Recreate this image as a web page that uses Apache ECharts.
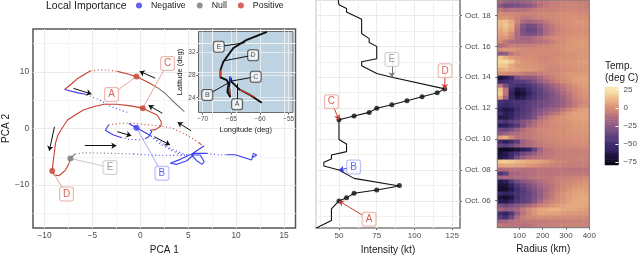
<!DOCTYPE html>
<html><head><meta charset="utf-8">
<style>html,body{margin:0;padding:0;background:#fff}#c{width:640px;height:271px}</style>
<script src="https://cdn.jsdelivr.net/npm/echarts@6/dist/echarts.min.js"></script>
</head><body><div id="c"></div>
<script>
// ---- PCA trajectory pieces [PCA1, PCA2]
const posSolidA=[[-7.9,6.9],[-7.1,8],[-6.5,8.9],[-5.8,9.6],[-5.2,10.2]];
const posDotsA=[[-5.2,10.2],[-4.2,10.4],[-3.2,10.3],[-2.4,10.1]];
const posSolidB=[[-2.4,10.1],[-1.4,9.7],[-0.4,9.2],[1,8],[1.9,7.1]];
const nullSolidA=[[1.9,7.1],[2.6,6.2],[3.3,5],[4.6,3]];
const negSolidA=[[-7.9,6.9],[-6.5,6.3],[-5.6,6]];
const nullDotsA=[[-5.6,6],[-4.2,5]];
const negDotsA=[[-4.2,5],[-3.1,3.9],[-2,3.2],[-1.2,2.8]];
const posSolidC=[[-9.2,-7.5],[-9.1,-6],[-8.85,-2.6],[-8.6,-1.2],[-8.3,-0.3],[-7.6,1.5],[-6.8,2.4],[-5.9,3.3],[-4.8,3.9],[-3.8,4.3],[-2.4,4.3],[-1,4],[0.25,3.6],[1.74,2.4],[2.2,1.2],[2.15,0.45],[1.6,-0.2],[1.04,-0.3]];
const posDotsB=[[-3.3,0.65],[-2,0.95],[-0.5,0.9],[1,0.6],[2.15,0.45],[3.4,0],[4.9,-1.2],[5.7,-2],[6.1,-2.5]];
const posSolidD=[[6.1,-2.5],[6.4,-2.9]];
const negSolidB=[[-3.3,0.65],[-3.65,-0.3],[-2.8,-1.15],[-2,-1.6]];
const negDotsB=[[-2,-1.6],[-1.4,-1.9],[0,-2],[0.5,-1.8]];
const negSolidC=[[0.5,-1.8],[0.87,-1.45],[1.2,-0.55],[1.04,-0.3]];
const negSolidD=[[-1.2,0.9],[-0.4,0.15],[0.5,-0.7],[1.1,-1.3]];
const negDotsC=[[1.1,-1.3],[2.1,-2.8],[3.4,-4],[4.4,-4.7]];
const negDotsD=[[0.5,-0.7],[1.8,-2],[3.2,-3.6],[5,-4.8]];
const negSolidE=[[6.67,-3.04],[5.38,-4.5],[4.17,-5.46],[3.13,-6.16],[3.82,-6.34],[4.86,-5.7],[5.55,-4.69],[6.25,-4.69],[6.67,-5.88],[6.43,-6.34],[5.9,-5.7],[5.38,-4.69],[5.6,-4.4],[6.95,-4.4]];
const negDotsE=[[6.95,-4.4],[8.33,-4.7],[9,-4.65]];
const negSolidF=[[9,-4.65],[9.9,-4.63],[11.63,-5.57],[11.8,-4.4],[12.15,-4.7],[11.63,-5.2]];
const posSolidE=[[-9.2,-7.5],[-9,-8.2],[-8.5,-8.35],[-7.8,-7.35],[-7.45,-6.2]];
const nullSolidB=[[-7.45,-6.2],[-7.3,-5.3],[-6.8,-4.5]];
const nullDotsB=[[-6.8,-4.5],[-5.9,-4.3],[-4,-4.35],[-0.7,-4.5]];
const negDotsF=[[-0.7,-4.5],[1,-4.7],[3.4,-4.75],[5.38,-4.69]];
const pcaNeg=[[-0.4,0.15]];
const pcaNull=[[-7.3,-5.3]];
const pcaPos=[[-0.4,9.2],[0.25,3.6],[-9.2,-7.5]];
const pcaArrows=[[[-6.98,7.1],[-5.1,6.1]],[[1.56,8.9],[-0.07,10.1]],[[2.3,2.7],[0.86,4.1]],[[5.3,-0.4],[3.9,1.1]],[[-2.4,-0.57],[-0.94,-1.27]],[[1.46,-1.45],[3.1,-2.9]],[[-8.96,0.3],[-9.5,-3.95]],[[-5.8,-3.05],[-2.5,-3.05]]];
const pcaLabelA=[-3,6.0], pcaLabelB=[2.26,-7.9], pcaLabelC=[2.85,11.5], pcaLabelD=[-7.7,-11.6], pcaLabelE=[-3.16,-6.9];
const pcaTicksX=[-10,-5,0,5,10,15], pcaTicksY=[-10,0,10];
const pcaMinorX=[-7.5,-2.5,2.5,7.5,12.5], pcaMinorY=[-15,-5,5,15];
// ---- inset track [lon, lat]
const trackAll=[[-59.7,23.1],[-61.75,24.5],[-63.5,25.4],[-64.95,26.8],[-65.2,27.7],[-65.4,25.9],[-65.2,24.1],[-65.5,23.9],[-65.7,25.06],[-65.5,26.5],[-65.8,27.1],[-66.9,27.6],[-66.9,28.9],[-66.4,30.35],[-64.7,32.7],[-62.3,34.2],[-58.8,35.6]];
const trackPosA=[[-63.5,25.4],[-62.2,24.8],[-60.9,24.1]];
const trackPosB=[[-66.9,27.7],[-66.9,28.9]];
const trackPosC=[[-65.4,25.9],[-65.2,24.5]];
const trackNeg=[[-65.2,26.8],[-65.2,27.7]];
const insetLabels=[['A',-64,22.85,-64,26.5],['B',-69.2,24.5,-65.2,26.8],['C',-60.75,27.7,-65.2,26.9],['D',-61.2,31.5,-66.3,30.5],['E',-67.2,33,-62.6,33.7]];
const lonTicks=[-70,-65,-60,-55], latTicks=[24,28,32];
// ---- intensity [kt, day of October]
const intensityPath=[[35,4.25],[37,4.34],[45,4.73],[45,5.48],[50,6],[55,6.2],[60,6.5],[75,6.71],[90,6.97],[90,7],[60,7.46],[50,8],[40,8.26],[40,8.5],[45,8.71],[45,8.97],[55,9.19],[55,9.68],[50,9.98],[50,11.25],[60,11.5],[70,11.73],[75,12],[85,12.22],[95,12.48],[105,12.74],[115,13],[120,13.25],[85,14],[75,14.25],[65,14.74],[65,15],[75,15.2],[75,16],[70,16.25],[70,16.5],[65,16.83],[65,17.76],[55,18.23],[55,18.45],[50,18.7],[49.6,18.9],[49.6,19]];
const intensityDots=[[50,6],[55,6.2],[60,6.5],[75,6.71],[90,7],[50,11.25],[60,11.5],[70,11.73],[75,12],[85,12.22],[95,12.48],[105,12.74],[115,13],[120,13.25]];
const intensityPts=[['A',69.9,4.82,50,6,0],['B',59.7,8.2,50,8,1],['C',45,12.42,50,11.25,0],['D',120.2,14.42,120,13.25,0],['E',85,15.15,85,14,2]];
const kTicks=[50,75,100,125], dayTicks=[6,8,10,12,14,16,18];
const kMinorX=[37.5,62.5,87.5,112.5], dayMinor=[5,7,9,11,13,15,17];
const radiusTicks=[100,200,300,400];
// ---- temperature, rows top to bottom, columns 25 km wide
const radiusCols=[12.5,37.5,62.5,87.5,112.5,137.5,162.5,187.5,212.5,237.5,262.5,287.5,312.5,337.5,362.5,387.5];
const tempRows=[
[-15,-20,-22,-22,-20,-18,-14,-10,-8,-6,-5,-4,-4,-4,-5,-6],
[-25,-32,-32,-30,-28,-25,-20,-12,-8,-6,-5,-4,-3,-4,-4,-5],
[-8,-15,-12,-12,-12,-10,-8,-6,-5,-5,-4,-3,-3,-3,-4,-4],
[0,-3,-3,-4,-4,-4,-4,-3,-2,-2,-2,0,0,-1,-2,-2],
[0,2,0,-4,-8,-8,-6,-4,-3,-2,-1,0,1,1,0,0],
[12,14,8,-4,-14,-18,-16,-12,-8,-4,-2,0,1,2,2,1],
[12,15,10,-8,-26,-32,-30,-22,-14,-8,-4,-2,0,1,1,1],
[8,12,6,-12,-30,-36,-34,-26,-16,-10,-6,-3,-1,0,0,0],
[6,8,0,-14,-28,-32,-30,-24,-14,-8,-4,-2,0,0,1,0],
[2,3,-4,-14,-18,-18,-14,-10,-6,-3,-1,0,1,2,2,2],
[-2,-8,-15,-16,-16,-16,-14,-12,-10,-6,-2,0,2,3,3,3],
[-14,-10,-6,-6,-6,-5,-5,-4,-3,-2,0,1,2,3,4,3],
[0,3,2,0,-1,-2,-2,-2,-2,-1,0,1,3,3,2,2],
[-25,-22,-8,-4,-2,-1,-1,-1,-2,-2,-2,0,1,1,2,2],
[16,10,4,1,0,0,-1,-2,-3,-2,-1,0,1,1,2,2],
[20,22,16,6,2,1,0,-1,-2,-1,0,1,2,3,4,4],
[16,16,8,3,2,2,1,0,-1,-2,-2,0,1,2,3,3],
[8,10,8,6,4,3,2,0,-2,-3,-3,-1,0,1,2,2],
[0,0,-2,-4,-6,-8,-8,-6,-4,-3,-1,1,2,3,3,3],
[-68,-60,-50,-30,-24,-24,-22,-16,-10,-6,-2,0,2,4,5,5],
[-52,-50,-46,-42,-40,-36,-30,-22,-16,-10,-6,-2,1,4,5,5],
[-10,-30,-45,-50,-50,-46,-40,-34,-26,-20,-14,-8,-3,0,3,4],
[14,-10,-52,-65,-62,-52,-44,-38,-30,-24,-18,-12,-6,-2,1,3],
[18,-10,-56,-72,-68,-56,-46,-40,-34,-28,-22,-16,-10,-4,0,2],
[8,-20,-54,-64,-60,-50,-44,-38,-34,-28,-24,-18,-12,-6,-2,1],
[-46,-50,-48,-46,-46,-42,-38,-34,-32,-28,-24,-20,-14,-8,-4,-2],
[-50,-52,-50,-48,-44,-40,-36,-34,-30,-26,-24,-20,-14,-8,-2,0],
[-58,-64,-60,-50,-44,-40,-34,-28,-24,-20,-16,-10,-4,0,4,5],
[-50,-58,-56,-48,-42,-38,-32,-24,-18,-12,-8,-2,2,5,6,6],
[-62,-62,-54,-46,-40,-36,-28,-14,-8,-3,0,2,4,5,6,6],
[-42,-46,-40,-34,-28,-22,-14,-8,-4,-1,0,1,2,4,4,4],
[-60,-58,-50,-42,-30,-18,-12,-6,-4,-2,-1,0,1,3,3,3],
[-34,-36,-30,-22,-14,-8,-5,-3,-2,-1,0,0,2,2,3,3],
[-24,-20,-16,-14,-10,-8,-5,-4,-2,-1,0,0,1,2,2,2],
[6,10,-2,-10,-10,-8,-6,-4,-3,-2,-1,0,0,1,1,1],
[-50,-58,-50,-40,-20,-14,-10,-6,-4,-3,-2,-2,-1,0,0,0],
[-36,-40,-34,-26,-18,-14,-10,-8,-6,-5,-4,-3,-2,-2,-1,-1],
[-72,-74,-70,-66,-60,-54,-36,-18,-10,-8,-6,-6,-5,-5,-4,-4],
[-66,-62,-52,-44,-34,-28,-22,-14,-10,-8,-6,-6,-5,-5,-5,-5],
[-64,-60,-50,-32,-22,-16,-12,-10,-8,-7,-6,-6,-6,-5,-4,-4],
[16,18,16,12,10,8,7,6,3,0,-3,-4,-5,-5,-5,-5],
[6,8,8,6,5,3,1,-1,-3,-4,-4,-5,-6,-6,-6,-6],
[-14,-14,-12,-12,-12,-12,-12,-10,-10,-10,-10,-10,-10,-10,-10,-10],
[-46,-38,-18,-16,-14,-12,-12,-10,-10,-10,-10,-9,-9,-9,-9,-9],
[-18,-16,-16,-14,-14,-12,-10,-9,-8,-8,-6,-6,-5,-4,-4,-3],
[-62,-58,-44,-32,-26,-22,-18,-14,-10,-8,-6,-4,-2,-1,0,1],
[-68,-66,-56,-44,-36,-30,-24,-18,-14,-10,-6,-3,-1,1,2,3],
[-70,-70,-62,-50,-42,-34,-28,-22,-16,-10,-5,-2,1,4,5,4],
[-52,-56,-52,-46,-42,-38,-30,-22,-14,-8,-3,1,4,6,6,5],
[-66,-70,-64,-48,-40,-36,-30,-22,-14,-8,-2,1,4,7,8,8],
[-60,-62,-54,-44,-40,-36,-26,-16,-8,-4,-1,2,5,8,8,8],
[-30,-34,-30,-26,-22,-16,-10,-4,-2,1,4,6,8,8,8,7],
[-18,-22,-20,-16,-8,-2,2,7,8,10,10,8,7,6,5,4],
[-50,-56,-44,-24,-10,-4,2,6,6,6,5,4,3,3,2,2],
[-42,-48,-34,-14,-6,-3,-2,0,-1,-1,-1,-1,-1,-1,-2,-2],
[-18,-16,-12,-10,-9,-8,-8,-8,-7,-6,-6,-6,-5,-5,-5,-5],
[-8,-10,-10,-10,-12,-10,-8,-6,-6,-5,-4,-4,-4,-4,-4,-4]];
const legendLevels=[-77.5,-75,-72.5,-70,-67.5,-65,-62.5,-60,-57.5,-55,-52.5,-50,-47.5,-45,-42.5,-40,-37.5,-35,-32.5,-30,-27.5,-25,-22.5,-20,-17.5,-15,-12.5,-10,-7.5,-5,-2.5,0,2.5,5,7.5,10,12.5,15,17.5,20,22.5,25,27.5];
const tempPalette=['#05030f','#150e2e','#2a1c55','#3f2d6e','#5a3f7c','#7a5082','#9b6183','#bb747c','#d68f76','#e9b083','#f4d79b','#f8edb8'];

const RED='#c8402f',BLUE='#3b3bf2',GRAY='#777777';
const RED_L='#e6a59b',BLUE_L='#a9a9f8',GRAY_L='#c8c8c8';
const TICK='#4d4d4d',FONT='"Liberation Sans",Arial,sans-serif';
const minus=v=>String(v).replace('-','\u2212');

function path(pts,color,dotted,w){return{type:'line',xAxisIndex:0,yAxisIndex:0,data:pts,showSymbol:false,silent:true,z:3,
  lineStyle:{color,width:w||1.1,type:dotted?[1,2.6]:'solid'},animation:false};}
function inset(pts,color,w){return{type:'line',xAxisIndex:1,yAxisIndex:1,data:pts,showSymbol:false,silent:true,z:5,
  lineStyle:{color,width:w},animation:false};}
function lines(idx,data,color,arrow,w,z,size){return{type:'lines',coordinateSystem:'cartesian2d',xAxisIndex:idx,yAxisIndex:idx,silent:true,z:z||3,polyline:false,
  symbol:arrow?['none','arrow']:['none','none'],symbolSize:size||6,effect:{show:false},data:data.map(c=>({coords:c})),lineStyle:{color,width:w,opacity:1,curveness:0},animation:false};}
function box(idx,pt,name,color,border,size,z){return{type:'scatter',xAxisIndex:idx,yAxisIndex:idx,symbolSize:0,silent:true,z:z||6,animation:false,
  data:[{value:pt,name}],label:{show:true,position:'inside',formatter:'{b}',color,fontFamily:FONT,fontSize:size,backgroundColor:'#fff',borderColor:border,borderWidth:1,borderRadius:2,
  width:size+1,height:size+1,lineHeight:size+2,padding:[1,1],align:'center',verticalAlign:'middle'}};}
function gridLines(idx,xs,ys,ext,color,z){const d=[];xs.forEach(x=>d.push([[x,ext[2]],[x,ext[3]]]));ys.forEach(y=>d.push([[ext[0],y],[ext[1],y]]));
  return lines(idx,d,color,false,1,z);}

const heatData=[];tempRows.forEach((r,y)=>r.forEach((v,x)=>heatData.push([x,y,v])));
const legendData=legendLevels.map((v,i)=>[0,i,v]);
const pcaExt=[-11.2,16.2,-17.6,17.6], kExt=[34.8,130.1,4.25,19], mapExt=[-70.73,-54.25,21.4,35.67];

const series=[
 gridLines(0,pcaMinorX,pcaMinorY,pcaExt,'#f5f5f5',1),
 gridLines(0,pcaTicksX,pcaTicksY,pcaExt,'#ebebeb',2),
 gridLines(2,kMinorX,dayMinor,kExt,'#f0f0f0',1),
 gridLines(2,kTicks.concat([75]),dayTicks,kExt,'#ebebeb',2),
 gridLines(1,lonTicks,latTicks,mapExt,'#e4ecf2',4),
 path(posSolidA,RED),path(posDotsA,RED,1),path(posSolidB,RED),path(nullSolidA,GRAY),
 path(negSolidA,BLUE),path(nullDotsA,GRAY,1),path(negDotsA,BLUE,1),
 path(posSolidC,RED),path(posDotsB,RED,1),path(posSolidD,RED),
 path(negSolidB,BLUE),path(negDotsB,BLUE,1),path(negSolidC,BLUE),path(negSolidD,BLUE),path(negDotsC,BLUE,1),path(negDotsD,BLUE,1),
 path(negSolidE,BLUE),path(negDotsE,BLUE,1),path(negSolidF,BLUE),
 path(posSolidE,RED),path(nullSolidB,GRAY),path(nullDotsB,GRAY,1),path(negDotsF,BLUE,1),
 lines(0,pcaArrows,'#111',true,1,4,5),
 lines(0,[[pcaPos[0],pcaLabelA]],RED_L,false,1,4),lines(0,[[pcaPos[1],pcaLabelC]],RED_L,false,1,4),lines(0,[[pcaPos[2],pcaLabelD]],RED_L,false,1,4),
 lines(0,[[pcaNeg[0],pcaLabelB]],BLUE_L,false,1,4),lines(0,[[pcaNull[0],pcaLabelE]],GRAY_L,false,1,4),
 {name:'Negative',type:'scatter',xAxisIndex:0,yAxisIndex:0,data:pcaNeg,symbolSize:6,itemStyle:{color:BLUE},z:5,silent:true,animation:false},
 {name:'Null',type:'scatter',xAxisIndex:0,yAxisIndex:0,data:pcaNull,symbolSize:6,itemStyle:{color:GRAY},z:5,silent:true,animation:false},
 {name:'Positive',type:'scatter',xAxisIndex:0,yAxisIndex:0,data:pcaPos,symbolSize:6,itemStyle:{color:RED},z:5,silent:true,animation:false},
 box(0,pcaLabelA,'A',RED,RED_L,10),box(0,pcaLabelB,'B',BLUE,BLUE_L,10),box(0,pcaLabelC,'C',RED,RED_L,10),box(0,pcaLabelD,'D',RED,RED_L,10),box(0,pcaLabelE,'E','#888',GRAY_L,10),
 inset(trackAll,'#0a0a0a',1.8),inset(trackPosA,RED,1.3),inset(trackPosB,RED,1.3),inset(trackPosC,RED,1.3),inset(trackNeg,BLUE,1.5),
 lines(1,insetLabels.map(l=>[[l[1],l[2]],[l[3],l[4]]]),'#111',false,1,5),
 ...insetLabels.map(l=>box(1,[l[1],l[2]],l[0],'#222','#333',7,7)),
 {type:'line',xAxisIndex:2,yAxisIndex:2,data:intensityPath,showSymbol:false,silent:true,z:3,lineStyle:{color:'#111',width:1.1},animation:false},
 {type:'scatter',xAxisIndex:2,yAxisIndex:2,data:intensityDots,symbolSize:5,itemStyle:{color:'#111'},silent:true,z:4,animation:false},
 ...intensityPts.map(p=>{const c=[RED,BLUE,GRAY][p[5]];return lines(2,[[[p[1],p[2]],[p[3],p[4]]]],c,true,1,5,5);}),
 ...intensityPts.map(p=>box(2,[p[1],p[2]],p[0],[RED,BLUE,'#888'][p[5]],[RED_L,BLUE_L,GRAY_L][p[5]],10)),
 {type:'heatmap',xAxisIndex:3,yAxisIndex:3,data:heatData,silent:true,animation:false,z:2,progressive:0},
 {type:'heatmap',xAxisIndex:5,yAxisIndex:5,data:legendData,silent:true,animation:false,z:2,progressive:0}
];

const legendTick=(i,v)=>Number(v)%25===0;
const opt={
 animation:false,backgroundColor:'#fff',textStyle:{fontFamily:FONT},
 title:[{text:'Local Importance',left:46,top:1,padding:0,textStyle:{fontSize:10.5,fontWeight:'normal',color:'#1a1a1a',fontFamily:FONT}},
        {text:'Temp.\n(deg C)',left:605,top:60,padding:0,textStyle:{fontSize:10,lineHeight:12,fontWeight:'normal',color:'#1a1a1a',fontFamily:FONT}}],
 legend:{left:136,top:1,padding:0,itemWidth:14,itemHeight:6,itemGap:11,icon:'circle',selectedMode:false,data:['Negative','Null','Positive'],textStyle:{fontSize:8.8,color:'#222',fontFamily:FONT}},
 visualMap:{show:false,type:'continuous',min:-80,max:30,dimension:2,seriesIndex:[series.length-2,series.length-1],inRange:{color:tempPalette}},
 grid:[
  {left:32.5,top:29,width:263,height:199,show:true,borderColor:'#555',borderWidth:1.5,backgroundColor:'#fff',z:0},
  {left:198.5,top:31.5,width:94.5,height:81,show:true,borderColor:'#6b6b6b',borderWidth:1,backgroundColor:'#bdd3e2',z:1},
  {left:316,top:0,width:144,height:228,show:true,borderColor:'#c4c4c4',borderWidth:1,backgroundColor:'#fff'},
  {left:497.3,top:0,width:92,height:227.7,show:false},
  {left:605,top:87,width:17,height:78,show:false}
 ],
 xAxis:[
  {gridIndex:0,type:'value',min:pcaExt[0],max:pcaExt[1],name:'PCA 1',nameLocation:'middle',nameGap:13,nameTextStyle:{fontSize:10,color:'#1a1a1a'},
   axisLine:{show:false},axisTick:{customValues:pcaTicksX,length:2,lineStyle:{color:'#444'}},splitLine:{show:false},
   axisLabel:{customValues:pcaTicksX,fontSize:8.3,color:TICK,margin:4,formatter:minus}},
  {gridIndex:1,type:'value',min:mapExt[0],max:mapExt[1],name:'Longitude (deg)',nameLocation:'middle',nameGap:13,nameTextStyle:{fontSize:7.5,color:'#222'},z:2,
   axisLine:{show:false},axisTick:{customValues:lonTicks,length:2,lineStyle:{color:'#555'}},splitLine:{show:false},
   axisLabel:{customValues:lonTicks,fontSize:6.5,color:TICK,margin:3,formatter:minus}},
  {gridIndex:2,type:'value',min:kExt[0],max:kExt[1],name:'Intensity (kt)',nameLocation:'middle',nameGap:14,nameTextStyle:{fontSize:10,color:'#1a1a1a'},
   axisLine:{show:true,onZero:false,lineStyle:{color:'#8c8c8c',width:1.5}},axisTick:{customValues:kTicks,length:2,lineStyle:{color:'#666'}},splitLine:{show:false},
   axisLabel:{customValues:kTicks,fontSize:8,color:TICK,margin:4}},
  {gridIndex:3,type:'category',data:radiusCols,show:false,boundaryGap:true},
  {gridIndex:3,type:'value',min:5.7,max:400,position:'bottom',name:'Radius (km)',nameLocation:'middle',nameGap:14,nameTextStyle:{fontSize:10,color:'#1a1a1a'},
   axisLine:{show:true,onZero:false,lineStyle:{color:'#777',width:1}},axisTick:{customValues:radiusTicks,length:2,lineStyle:{color:'#666'}},splitLine:{show:false},
   axisLabel:{customValues:radiusTicks,fontSize:8,color:TICK,margin:4}},
  {gridIndex:4,type:'category',data:['temp'],show:false}
 ],
 yAxis:[
  {gridIndex:0,type:'value',min:pcaExt[2],max:pcaExt[3],name:'PCA 2',nameLocation:'middle',nameGap:22,nameRotate:90,nameTextStyle:{fontSize:10,color:'#1a1a1a'},
   axisLine:{show:false},axisTick:{customValues:pcaTicksY,length:2,lineStyle:{color:'#444'}},splitLine:{show:false},
   axisLabel:{customValues:pcaTicksY,fontSize:8.3,color:TICK,margin:4,formatter:minus}},
  {gridIndex:1,type:'value',min:mapExt[2],max:mapExt[3],name:'Latitude (deg)',nameLocation:'middle',nameGap:14,nameRotate:90,nameTextStyle:{fontSize:7.5,color:'#222'},z:2,
   axisLine:{show:false},axisTick:{customValues:latTicks,length:2,lineStyle:{color:'#555'}},splitLine:{show:false},
   axisLabel:{customValues:latTicks,fontSize:6.5,color:TICK,margin:3}},
  {gridIndex:2,type:'value',position:'right',min:kExt[2],max:kExt[3],
   axisLine:{show:true,onZero:false,lineStyle:{color:'#999',width:2}},axisTick:{customValues:dayTicks,length:2,lineStyle:{color:'#666'}},splitLine:{show:false},
   axisLabel:{customValues:dayTicks,fontSize:8,color:TICK,margin:5,formatter:v=>'Oct. '+String(v).padStart(2,'0')}},
  {gridIndex:3,type:'category',data:tempRows.map((r,i)=>i),inverse:true,show:false},
  {gridIndex:3,type:'value',position:'left',min:kExt[2],max:kExt[3],
   axisLine:{show:false},axisTick:{customValues:dayTicks,length:2,lineStyle:{color:'#555'}},splitLine:{show:false},axisLabel:{show:false}},
  {gridIndex:4,type:'category',data:legendLevels,position:'right',z:3,
   axisLine:{show:false},axisTick:{show:true,inside:true,length:3,alignWithLabel:true,interval:legendTick,lineStyle:{color:'#fff'}},
   axisLabel:{fontSize:8,color:TICK,margin:5,interval:legendTick,formatter:minus}}
 ],
 series
};
const chart=echarts.init(document.getElementById('c'),null,{renderer:'canvas'});
chart.setOption(opt);
chart.setOption({graphic:[{type:'rect',silent:true,z:10,shape:{x:497.3,y:0,width:92,height:227.7},style:{fill:'none',stroke:'#777',lineWidth:1}}]});
</script></body></html>
